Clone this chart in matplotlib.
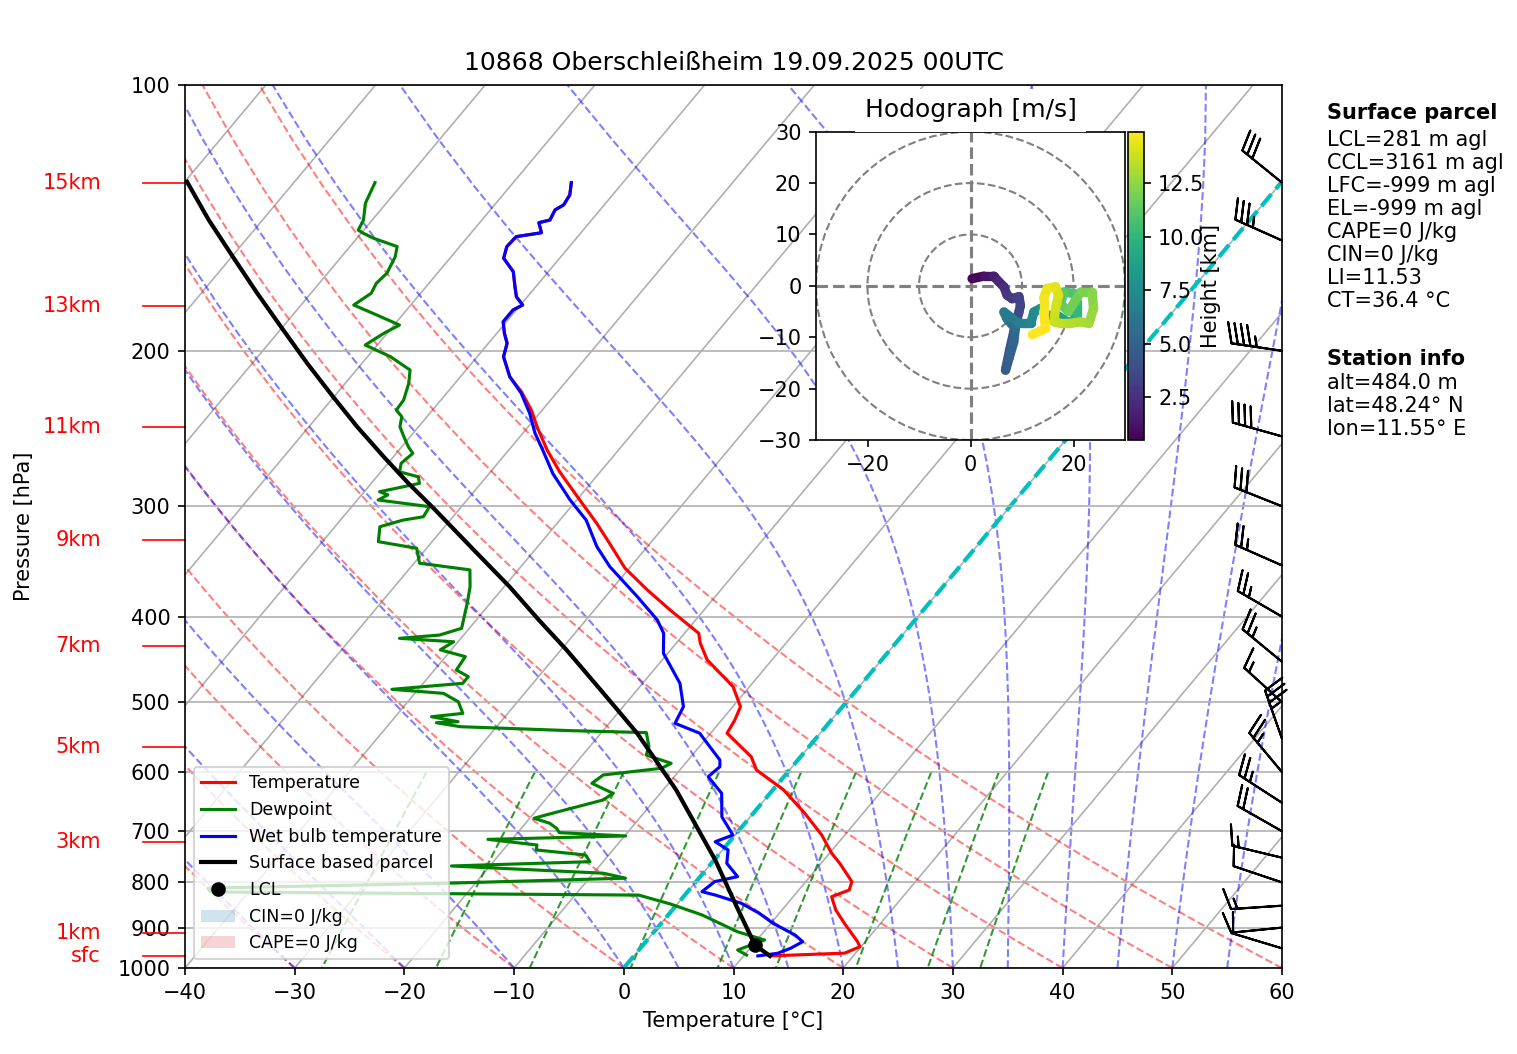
import numpy as np
import matplotlib
matplotlib.use('Agg')
import matplotlib.pyplot as plt
import matplotlib.transforms as mtransforms
from matplotlib.collections import LineCollection
from matplotlib.patches import Patch, Circle
from matplotlib.lines import Line2D
from matplotlib.ticker import MultipleLocator, ScalarFormatter, NullLocator, FixedLocator

# ---------------- data ----------------
title = "10868 Oberschleißheim 19.09.2025 00UTC"

# shared upper part of temperature / wet-bulb profile (hPa, degC)
upper_p = [129.0, 133.2, 136.7, 138.5, 142.2, 143.2, 147.0, 148.5, 152.4, 157.1,
           162.7, 169.2, 173.7, 177.5, 179.8, 185.4, 191.1, 196.1, 203.1, 214.0]
upper_t = [-64.7, -63.9, -63.7, -64.1, -63.8, -64.6, -63.6, -65.6, -65.7, -65.1,
           -63.2, -61.9, -61.0, -59.8, -60.3, -60.3, -59.3, -58.3, -57.6, -55.5]

temp_p = upper_p + [222.5, 233.4, 243.8, 259.1, 274.2, 292.5, 313.6, 330.4, 352.5, 373.1,
                    393.1, 417.8, 428.8, 447.8, 480.2, 505.9, 523.7, 542.1, 576.5, 596.8,
                    628.7, 668.1, 707.0, 741.5, 761.1, 798.3, 816.0, 830.3, 859.6, 890.0,
                    933.7, 946.0, 962.0, 969.0]
temp_t = upper_t + [-53.3, -51.0, -49.2, -46.5, -43.7, -40.2, -36.4, -33.7, -30.4, -26.7,
                    -23.1, -18.7, -17.8, -15.9, -11.5, -9.3, -8.8, -8.5, -4.5, -3.0,
                    1.0, 4.7, 7.9, 10.2, 11.7, 14.2, 14.6, 13.5, 14.9, 16.7,
                    19.3, 19.9, 19.0, 12.4]

wetb_p = upper_p + [223.4, 235.4, 247.9, 259.1, 275.4, 295.1, 311.0, 333.3, 351.1, 379.7,
                    403.5, 417.8, 440.1, 476.0, 505.9, 528.3, 542.1, 581.5, 591.6, 607.2,
                    634.2, 674.1, 707.0, 719.4, 735.0, 761.1, 788.0, 798.3, 819.5, 826.9,
                    844.9, 867.3, 890.0, 917.6, 933.7, 949.9, 962.4, 969.0]
wetb_t = upper_t + [-53.2, -50.9, -48.9, -46.9, -44.2, -40.6, -37.6, -34.6, -31.9, -27.1,
                    -23.5, -21.9, -20.4, -16.6, -14.5, -14.0, -11.0, -7.1, -6.6, -6.9,
                    -4.4, -2.6, -0.2, -1.3, 0.5, 1.4, 3.4, 1.7, 1.3, 2.8,
                    5.8, 8.2, 10.2, 13.1, 14.3, 13.7, 12.9, 11.3]

dewp_p = [129.0, 136.1, 142.2, 146.0, 147.2, 149.1, 152.4, 156.5, 163.4, 167.7,
          172.1, 177.5, 181.4, 187.0, 191.1, 197.0, 203.1, 210.3, 217.8, 227.4,
          233.4, 237.5, 243.8, 250.1, 256.9, 261.3, 268.2, 274.2, 277.8, 282.6,
          288.8, 291.2, 295.1, 300.3, 308.3, 311.0, 316.4, 329.0, 334.7, 348.0,
          354.1, 370.0, 386.3, 412.4, 419.7, 423.3, 427.1, 436.2, 444.0, 459.7,
          467.8, 476.0, 483.5, 488.6, 499.4, 514.8, 519.3, 526.1, 527.5, 533.0,
          538.5, 541.3, 561.4, 573.9, 586.4, 594.0, 604.5, 617.8, 634.2, 645.2,
          671.1, 676.8, 685.6, 694.6, 702.6, 708.7, 715.0, 725.6, 735.0, 744.8,
          757.9, 766.4, 781.0, 791.2, 801.6, 812.0, 820.0, 826.9, 846.5, 870.9,
          909.8, 929.6, 954.1, 966.7]
dewp_t = [-82.6, -81.9, -80.8, -80.5, -79.8, -78.5, -75.7, -75.1, -74.6, -74.8,
          -74.5, -75.2, -72.8, -69.5, -70.3, -71.1, -67.9, -65.1, -64.2, -63.4,
          -63.3, -62.3, -61.7, -60.6, -59.4, -58.5, -58.8, -58.3, -56.2, -55.6,
          -58.6, -57.6, -58.1, -52.9, -52.7, -54.3, -55.9, -54.9, -50.9, -49.5,
          -44.4, -43.1, -42.1, -40.7, -42.2, -45.6, -40.4, -41.0, -38.2, -38.0,
          -36.4, -36.4, -42.4, -37.4, -35.4, -34.1, -36.7, -33.9, -35.8, -33.3,
          -23.0, -15.9, -14.6, -14.2, -11.3, -11.8, -16.6, -17.0, -14.3, -14.7,
          -18.8, -19.6, -17.8, -16.8, -16.2, -9.9, -22.2, -17.3, -17.0, -12.1,
          -11.2, -23.5, -9.1, -6.7, -22.5, -44.0, -43.5, -4.2, -0.6, 3.1,
          7.6, 10.7, 9.0, 10.2]

parcel_p = [969.0, 941.8, 855.7, 754.6, 628.7, 542.1, 488.6, 436.2, 403.5, 370.0,
            334.4, 301.6, 282.6, 263.6, 243.8, 225.4, 206.6, 189.5, 172.1, 156.5,
            142.2, 128.7]
parcel_t = [12.4, 10.2, 5.8, 0.1, -8.8, -16.7, -22.8, -29.5, -34.3, -39.5,
            -45.9, -52.4, -56.6, -60.9, -65.6, -70.1, -75.0, -79.7, -84.9, -89.9,
            -94.9, -99.8]

lcl_p = 941.8
lcl_t = 10.2

# wind barbs (hPa, knots)
barb_p = [950, 900, 850, 800, 750, 700, 650, 600, 550, 500, 450, 400, 350, 300, 250, 200, 150, 129]
barb_u = [9.6, 10.0, 15.0, 9.5, 14.6, 17.4, 21.0, 16.0, 11.6, 11.1, 19.3, 21.6, 22.9, 27.9, 38.5, 44.5, 32.0, 23.3]
barb_v = [-2.9, 1.0, 1.0, -3.2, -3.5, -9.9, -13.6, -19.2, -33.0, -10.1, -15.9, -12.5, -10.1, -11.1, -10.8, -6.6, -14.3, -18.9]

# height markers on the left (label, hPa)
km_labels = ['15km', '13km', '11km', '9km', '7km', '5km', '3km', '1km', 'sfc']
km_p = [129.2, 178.0, 244.1, 327.6, 431.8, 561.8, 720.0, 913.5, 970.0]

# hodograph (km, m/s)
hodo_h = [0.5, 1.0, 1.5, 2.0, 2.3, 2.6, 2.9, 3.1, 3.3, 3.6,
          3.9, 4.2, 4.5, 4.8, 5.1, 5.4, 5.8, 6.2, 6.6, 7.0,
          7.3, 7.6, 7.9, 8.3, 8.8, 9.3, 9.8, 10.3, 10.7, 11.0,
          11.3, 11.6, 11.9, 12.2, 12.5, 12.8, 13.0, 13.2, 13.4, 13.6,
          13.8, 14.0, 14.2, 14.4, 14.55, 14.7, 14.8, 14.9]
hodo_u = [0.3, 2.6, 4.5, 5.5, 6.5, 7.1, 8.1, 9.4, 9.7, 9.4,
          8.4, 7.6, 6.8, 7.5, 8.4, 8.7, 7.1, 6.5, 9.4, 11.7,
          12.3, 13.6, 14.9, 16.8, 18.8, 19.4, 20.7, 20.7, 20.1, 18.1,
          17.5, 19.0, 21.4, 23.6, 23.9, 23.0, 21.4, 19.4, 17.5, 16.2,
          16.5, 17.1, 16.5, 14.9, 14.2, 14.2, 14.6, 12.0]
hodo_v = [1.4, 1.9, 1.9, 0.8, -0.2, -1.8, -2.5, -2.1, -3.8, -5.1,
          -9.0, -12.5, -16.4, -14.0, -10.9, -8.3, -6.4, -5.1, -7.3, -7.3,
          -5.1, -4.4, -5.7, -5.7, -7.0, -7.3, -5.7, -3.1, -1.5, -1.2,
          -3.5, -5.0, -1.2, -1.2, -4.4, -7.3, -7.0, -7.3, -7.3, -7.0,
          -4.4, -1.8, -0.2, -0.5, -2.4, -5.1, -8.3, -9.5]

parcel_lines = ['LCL=281 m agl', 'CCL=3161 m agl', 'LFC=-999 m agl', 'EL=-999 m agl',
                'CAPE=0 J/kg', 'CIN=0 J/kg', 'LI=11.53', 'CT=36.4 °C']
station_lines = ['alt=484.0 m', 'lat=48.24° N', 'lon=11.55° E']

# background reference line settings
dry_t0 = np.arange(-40, 61, 10)
moist_t0 = np.concatenate((np.arange(-40, 0, 10), np.arange(0, 61, 5)))
mixing_ratios = [0.0004, 0.001, 0.002, 0.004, 0.007, 0.01, 0.016, 0.024, 0.032]

# ---------------- figure ----------------
W, H, DPI = 1517, 1054, 150
fig = plt.figure(figsize=(W / DPI, H / DPI), dpi=DPI)


def fx(px):
    return px / W


def fy(py):
    return 1 - py / H


ax = fig.add_axes([fx(185), fy(968), fx(1282) - fx(185), fy(85) - fy(968)])
ax.set_yscale('log')
ax.set_xlim(-40, 60)
ax.set_ylim(1000, 100)
ax.autoscale(False)

SKEW = 739.0 / 1097.0
tr = ax.transScale + ax.transLimits + mtransforms.Affine2D().skew(np.arctan(SKEW), 0) + ax.transAxes
bt = mtransforms.blended_transform_factory(ax.transAxes, ax.transData)

# horizontal grid + skewed isotherms
ax.yaxis.grid(True, color='#b0b0b0', lw=0.8, zorder=0.5)
for t in np.arange(-110, 61, 10):
    ax.plot([t, t], [1000, 100], transform=tr, color='#b0b0b0', lw=0.8, zorder=0.6)

p_lines = np.linspace(1000, 100, 60)
# dry adiabats
for t0 in dry_t0:
    tt = (t0 + 273.15) * (p_lines / 1000.0) ** 0.2857 - 273.15
    ax.plot(tt, p_lines, transform=tr, color='r', ls='--', lw=1.0, alpha=0.5, zorder=1)

# moist adiabats (pseudo-adiabatic integration)
Rd, Lv, Cp, eps = 287.04749, 2.50084e6, 1004.6662, 0.6219569


def dtdp(p, t):
    es = 6.112 * np.exp(17.67 * (t - 273.15) / (t - 29.65))
    rs = eps * es / (p - es)
    return (Rd * t + Lv * rs) / (Cp + Lv * Lv * rs * eps / (Rd * t * t)) / p


tk = moist_t0.astype(float) + 273.15
prof = [tk.copy()]
for i in range(1, len(p_lines)):
    p = p_lines[i - 1]
    hstep = (p_lines[i] - p_lines[i - 1]) / 4
    for _ in range(4):
        k1 = dtdp(p, tk)
        k2 = dtdp(p + hstep / 2, tk + hstep / 2 * k1)
        k3 = dtdp(p + hstep / 2, tk + hstep / 2 * k2)
        k4 = dtdp(p + hstep, tk + hstep * k3)
        tk = tk + hstep / 6 * (k1 + 2 * k2 + 2 * k3 + k4)
        p += hstep
    prof.append(tk.copy())
prof = np.array(prof) - 273.15
for j in range(prof.shape[1]):
    ax.plot(prof[:, j], p_lines, transform=tr, color='b', ls='--', lw=1.0, alpha=0.5, zorder=1)

# mixing ratio lines
p_mr = np.linspace(600, 1000, 30)
for w in mixing_ratios:
    e = p_mr * w / (eps + w)
    le = np.log(e / 6.112)
    td = 243.5 * le / (17.67 - le)
    ax.plot(td, p_mr, transform=tr, color='g', ls='--', lw=1.0, alpha=0.8, zorder=1)

# 0 degC isotherm
ax.plot([0, 0], [1000, 100], transform=tr, color='c', ls='--', lw=2, zorder=1.5)

# profiles
l_t, = ax.plot(temp_t, temp_p, color='r', lw=1.5, transform=tr, zorder=3)
l_d, = ax.plot(dewp_t, dewp_p, color='g', lw=1.5, transform=tr, zorder=3)
l_w, = ax.plot(wetb_t, wetb_p, color='b', lw=1.5, transform=tr, zorder=3)
l_p, = ax.plot(parcel_t, parcel_p, color='k', lw=2, transform=tr, zorder=3)
l_l, = ax.plot([lcl_t], [lcl_p], 'ko', markersize=6, transform=tr, zorder=4)

# wind barbs on right edge
ax.barbs(np.ones(len(barb_p)), barb_p, barb_u, barb_v, transform=bt, clip_on=False,
         length=7, zorder=5)

# height markers
for lab, pk in zip(km_labels, km_p):
    ax.plot([-0.0383, 0], [pk, pk], transform=bt, color='r', lw=0.8, clip_on=False)
    ax.text(-0.0766, pk, lab, transform=bt, color='r', ha='right', va='center', fontsize=10)

# axes formatting
ax.yaxis.set_major_locator(MultipleLocator(100))
ax.yaxis.set_major_formatter(ScalarFormatter())
ax.yaxis.set_minor_locator(NullLocator())
ax.xaxis.set_major_locator(MultipleLocator(10))
ax.set_xlim(-40, 60)
ax.set_ylim(1000, 100)
ax.set_xlabel('Temperature [°C]')
ax.set_ylabel('Pressure [hPa]')
ax.yaxis.set_label_coords(-0.138, 0.5)
ax.set_title(title, fontsize=12, pad=7)

handles = [l_t, l_d, l_w, l_p,
           Line2D([], [], color='k', marker='o', ls='none', markersize=6),
           Patch(facecolor='tab:blue', alpha=0.2), Patch(facecolor='tab:red', alpha=0.2)]
labels = ['Temperature', 'Dewpoint', 'Wet bulb temperature', 'Surface based parcel', 'LCL',
          'CIN=0 J/kg', 'CAPE=0 J/kg']
ax.legend(handles, labels, loc='lower left', fontsize='small')

# ---------------- hodograph ----------------
axh = fig.add_axes([fx(816), fy(440), fx(1125) - fx(816), fy(131.7) - fy(440)])
axh.set_xlim(-30, 30)
axh.set_ylim(-30, 30)
for r in (10, 20, 30):
    axh.add_patch(Circle((0, 0), r, fill=False, ls='--', color='grey', lw=1.0))
axh.axhline(0, color='grey', ls='--', lw=1.5)
axh.axvline(0, color='grey', ls='--', lw=1.5)
pts = np.column_stack([hodo_u, hodo_v])
segs = np.stack([pts[:-1], pts[1:]], axis=1)
hh = np.asarray(hodo_h)
lc = LineCollection(segs, cmap='viridis', norm=plt.Normalize(hh.min(), hh.max()), lw=4.5,
                    capstyle='round', joinstyle='round')
lc.set_array(0.5 * (hh[:-1] + hh[1:]))
axh.add_collection(lc)
axh.xaxis.set_major_locator(FixedLocator([-20, 0, 20]))
axh.yaxis.set_major_locator(FixedLocator([-30, -20, -10, 0, 10, 20, 30]))
axh.set_title('Hodograph [m/s]', fontsize=12, pad=6.9,
              bbox=dict(facecolor='white', edgecolor='none', pad=4.6))
cax = fig.add_axes([fx(1128), fy(440), fx(1143.5) - fx(1128), fy(131.7) - fy(440)])
cb = fig.colorbar(lc, cax=cax)
cb.set_ticks([2.5, 5.0, 7.5, 10.0, 12.5])
cb.set_label('Height [km]', labelpad=-1.5)

# ---------------- info text ----------------
x0 = fx(1327)
fig.text(x0, fy(113.3), 'Surface parcel', fontweight='bold', va='center', ha='left', fontsize=10)
for i, s in enumerate(parcel_lines):
    fig.text(x0, fy(140 + 23.0 * i), s, va='center', ha='left', fontsize=10)
fig.text(x0, fy(359.3), 'Station info', fontweight='bold', va='center', ha='left', fontsize=10)
for i, s in enumerate(station_lines):
    fig.text(x0, fy(382.7 + 23.0 * i), s, va='center', ha='left', fontsize=10)

fig.savefig('out.png', dpi=DPI)
